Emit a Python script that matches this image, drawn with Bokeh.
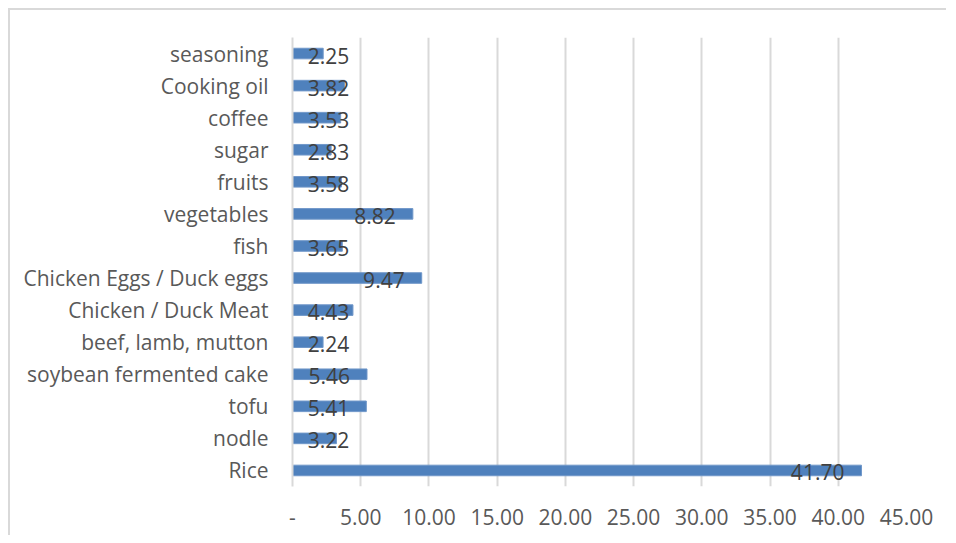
import numpy as np
from bokeh.plotting import figure
from bokeh.models import ColumnDataSource, FixedTicker, Range1d, FactorRange
from bokeh.core.properties import value
from bokeh.embed import file_html
from bokeh.resources import INLINE

categories = ["Rice", "nodle", "tofu", "soybean fermented cake", "beef, lamb, mutton",
              "Chicken / Duck Meat", "Chicken Eggs / Duck eggs", "fish", "vegetables",
              "fruits", "sugar", "coffee", "Cooking oil", "seasoning"]
values = [41.70, 3.22, 5.41, 5.46, 2.24, 4.43, 9.47, 3.65, 8.82, 3.58, 2.83, 3.53, 3.82, 2.25]
tick_values = [0, 5, 10, 15, 20, 25, 30, 35, 40, 45]
tick_labels = ["-", "5.00", "10.00", "15.00", "20.00", "25.00", "30.00", "35.00", "40.00", "45.00"]

FONT = "Open Sans"
vals = np.array(values)
label_x = np.maximum(vals - 1.25, 4.16)
src = ColumnDataSource(dict(cat=categories, val=values, lx=label_x,
                            txt=["%.2f" % v for v in values]))

p = figure(width=938, height=527, output_backend="svg", toolbar_location=None,
           y_range=FactorRange(*categories), x_range=Range1d(0, 45),
           min_border_left=282, min_border_right=42, min_border_top=27, min_border_bottom=51)
p.styles = {"border-left": "2px solid #d9d9d9", "border-top": "2px solid #d9d9d9",
            "margin-left": "8px", "margin-top": "8px"}
p.outline_line_color = None
p.hbar(y="cat", left=0, right="val", height=0.33, source=src,
       fill_color="#4F81BD", line_color="#7097c9", line_width=1)
p.text(x="lx", y="cat", text="txt", source=src, text_align="right", text_baseline="middle",
       text_font=value(FONT), text_font_size="21px", text_color="#404040", y_offset=2)

p.xaxis.ticker = FixedTicker(ticks=tick_values)
p.xaxis.major_label_overrides = {float(t): l for t, l in zip(tick_values, tick_labels)}
p.xaxis.axis_line_color = None
p.xaxis.major_tick_line_color = None
p.xaxis.minor_tick_line_color = None
p.xaxis.major_label_text_font = FONT
p.xaxis.major_label_text_font_size = "21px"
p.xaxis.major_label_text_color = "#595959"
p.xaxis.major_label_standoff = 16

p.yaxis.axis_line_color = "#d9d9d9"
p.yaxis.axis_line_width = 2
p.yaxis.major_tick_line_color = None
p.yaxis.minor_tick_line_color = None
p.yaxis.major_label_text_font = FONT
p.yaxis.major_label_text_font_size = "21px"
p.yaxis.major_label_text_color = "#595959"
p.yaxis.major_label_standoff = 18

p.xgrid.grid_line_color = "#d9d9d9"
p.xgrid.grid_line_width = 2
p.ygrid.grid_line_color = None

open("out.html", "w").write(file_html(p, INLINE))
